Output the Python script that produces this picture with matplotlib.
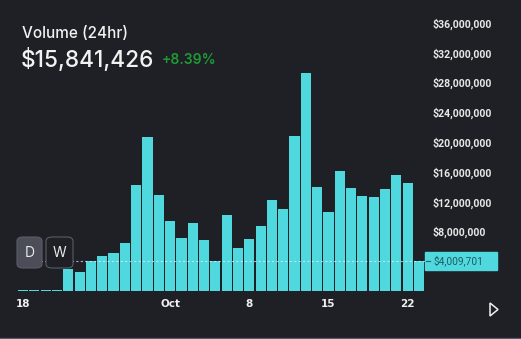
import matplotlib
matplotlib.use("Agg")
import matplotlib.pyplot as plt
import matplotlib.transforms as mtransforms
from matplotlib.patches import FancyBboxPatch, Rectangle, Polygon
from matplotlib.ticker import FuncFormatter

# daily volume, Sep 18 - Oct 23
days = ["Sep 18", "Sep 19", "Sep 20", "Sep 21", "Sep 22", "Sep 23", "Sep 24", "Sep 25",
        "Sep 26", "Sep 27", "Sep 28", "Sep 29", "Sep 30", "Oct 1", "Oct 2", "Oct 3",
        "Oct 4", "Oct 5", "Oct 6", "Oct 7", "Oct 8", "Oct 9", "Oct 10", "Oct 11",
        "Oct 12", "Oct 13", "Oct 14", "Oct 15", "Oct 16", "Oct 17", "Oct 18", "Oct 19",
        "Oct 20", "Oct 21", "Oct 22", "Oct 23"]
volume = [0.15e6, 0.15e6, 0.15e6, 0.15e6, 2.95e6, 2.55e6, 4.0e6, 4.7e6,
          5.1e6, 6.4e6, 14.2e6, 20.7e6, 12.9e6, 9.4e6, 7.1e6, 9.1e6,
          6.8e6, 4.0e6, 10.2e6, 5.8e6, 7.0e6, 8.7e6, 12.2e6, 11.0e6,
          20.8e6, 29.3e6, 14.0e6, 10.6e6, 16.1e6, 13.8e6, 12.7e6, 12.6e6,
          13.7e6, 15.6e6, 14.5e6, 4.009701e6]
tick_pos = [0, 13, 20, 27, 34]
tick_labels = ["18", "Oct", "8", "15", "22"]
y_ticks = [8e6, 12e6, 16e6, 20e6, 24e6, 28e6, 32e6, 36e6]
last_value = 4009701

bg = "#1e2026"
bar_col = "#4fd8de"
W, H = 521, 339

fig = plt.figure(figsize=(W / 100, H / 100), dpi=100, facecolor=bg)
ax = fig.add_axes([18 / W, 48 / H, 406.6 / W, 275.6 / H])
ax.set_facecolor(bg)

x = list(range(len(days)))
ax.bar(x, volume, width=0.9, color=bar_col, zorder=2)
ax.set_xlim(-0.45, 35.5)
ax.set_ylim(0, 37e6)

# dashed line at last value
ax.axhline(last_value, color="#d8f6f8", lw=0.8, ls=(0, (2, 2)), alpha=0.7, zorder=3)

for s in ax.spines.values():
    s.set_visible(False)
ax.set_xticks(tick_pos)
ax.set_xticklabels(tick_labels, fontsize=7.5, fontweight="bold", color="#f0f0f0")
ax.tick_params(axis="x", length=0, pad=6)
ax.yaxis.tick_right()
ax.set_yticks(y_ticks)
ax.yaxis.set_major_formatter(FuncFormatter(lambda v, p: "${:,.0f}".format(v)))
ax.tick_params(axis="y", length=0, pad=6, labelsize=7.6, labelcolor="#e8e8e8")
for t in ax.get_yticklabels():
    t.set_fontweight("bold")
    t.set_fontfamily("Roboto")

# last value tag
tr = mtransforms.blended_transform_factory(ax.transAxes, ax.transData)
ax.add_patch(Rectangle((1.0, last_value - 1.25e6), 72 / 406.6, 2.5e6, transform=tr,
                       color=bar_col, clip_on=False, zorder=4))
ax.text(1.0 + 9 / 406.6, last_value, "${:,}".format(last_value), transform=tr,
        fontsize=7.3, color="#1d5d62", va="center", ha="left", zorder=5,
        fontfamily="Roboto")
ax.plot([1.0 + 1 / 406.6, 1.0 + 5 / 406.6], [last_value, last_value], transform=tr,
        color="#1d5d62", lw=0.8, clip_on=False, zorder=5)

# header
fig.text(22 / W, 1 - 33 / H, "Volume (24hr)", fontsize=11, color="#f2f2f2",
         fontfamily="Inter", fontweight="medium", va="center")
fig.text(21 / W, 1 - 60 / H, "$15,841,426", fontsize=16.3, color="#f2f2f2",
         fontfamily="Inter", fontweight="medium", va="center")
fig.text(162 / W, 1 - 60 / H, "+8.39%", fontsize=10, color="#1f9a35",
         fontfamily="Inter", fontweight="semibold", va="center")

# D / W buttons
def px_box(x0, y0, w, h, **kw):
    return FancyBboxPatch((x0 / W, 1 - (y0 + h) / H), w / W, h / H,
                          boxstyle="round,pad=0,rounding_size=0.012",
                          transform=fig.transFigure, **kw)

fig.patches.append(px_box(17, 237, 25, 31, facecolor="#4b4e58", edgecolor="#5a5d66", lw=0.8))
fig.patches.append(px_box(46, 237, 27, 31, facecolor=bg, edgecolor="#5a5d66", lw=0.8))
fig.text(29.5 / W, 1 - 253 / H, "D", fontsize=10, color="#e8e8e8", ha="center",
         va="center", fontfamily="Inter")
fig.text(59.5 / W, 1 - 253 / H, "W", fontsize=10, color="#e8e8e8", ha="center",
         va="center", fontfamily="Inter")

# play icon
fig.patches.append(Polygon([(490 / W, 1 - 303 / H), (490 / W, 1 - 316 / H), (498 / W, 1 - 309.5 / H)],
                           closed=True, fill=False, edgecolor="#f0f0f0", lw=1.1,
                           transform=fig.transFigure))

# bottom border
fig.add_artist(plt.Line2D([0, 1], [1.5 / H, 1.5 / H], color="#55585f", lw=1,
                          transform=fig.transFigure))

fig.savefig("out.png", dpi=100, facecolor=bg)
